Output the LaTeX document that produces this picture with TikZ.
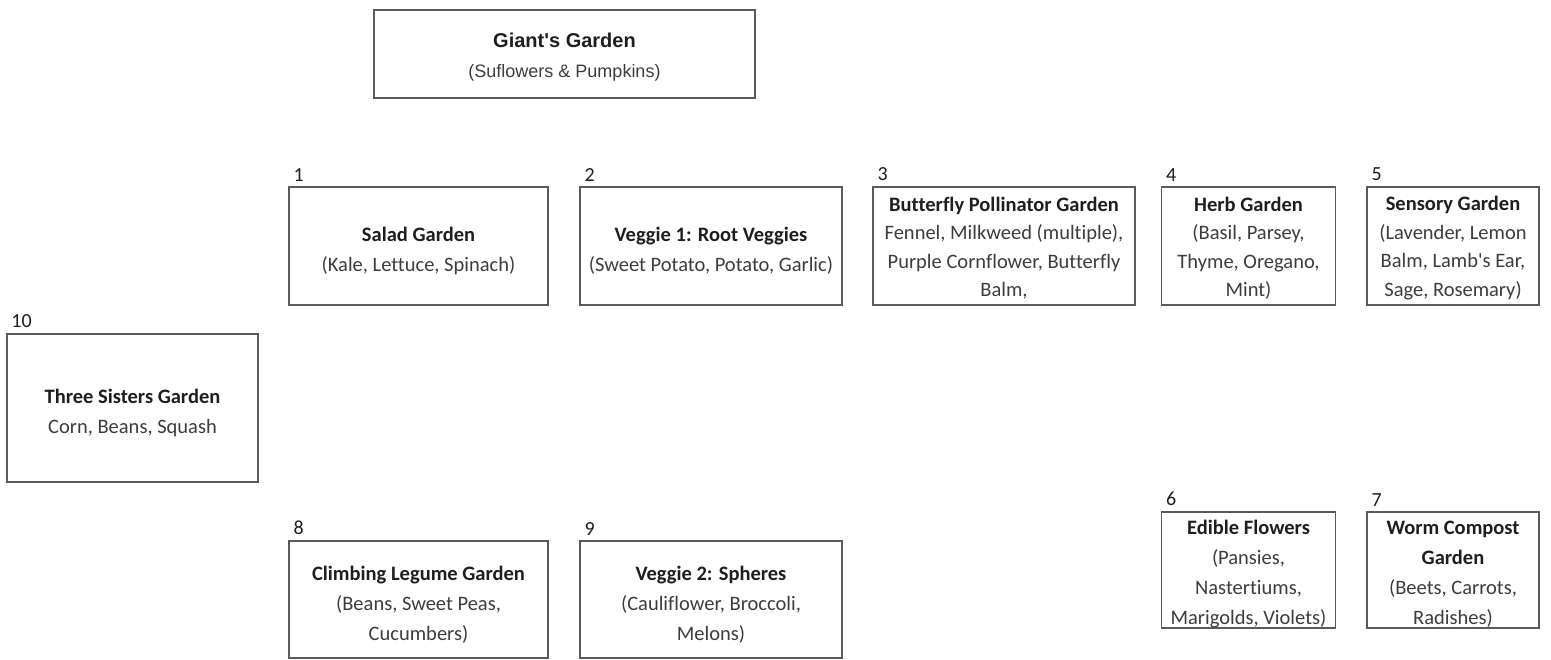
\documentclass[tikz,border=0pt]{standalone}
\usepackage{fontspec}
\setmainfont{Carlito}[Ligatures=NoCommon]
\newfontfamily\arialfont{Liberation Sans}
\usetikzlibrary{positioning}

\definecolor{ink}{HTML}{1E1E1E}
\definecolor{body}{HTML}{3C3C3C}
\definecolor{edge}{HTML}{5A5A5A}

% bold plot title, with a strut to sit the text a little low
\newcommand{\plottitle}[2][24pt]{\rule{0pt}{#1}\textcolor{ink}{\bfseries #2}}

\begin{document}
\begin{tikzpicture}[x=1pt, y=-1pt,
  plot/.style={draw=edge, line width=1.4pt, align=center, inner sep=0pt, text=body,
    font=\fontsize{20.5}{30}\selectfont},
  dense/.style={plot, font=\fontsize{20.5}{28.5}\selectfont},
  num/.style={inner sep=0pt, text=ink, font=\fontsize{20}{22}\selectfont}]
\useasboundingbox (0,0) rectangle (1551,660);

\node[plot, minimum width=381, minimum height=88, font=\arialfont\fontsize{18}{30}\selectfont] (giant) at (564.5,54)
  {\plottitle[20pt]{\fontsize{20}{30}\selectfont Giant\textquotesingle s Garden}\\(Suflowers \& Pumpkins)};

\node[plot, minimum width=259, minimum height=118] (salad) at (418.5,246) {\plottitle{Salad Garden}\\(Kale, Lettuce, Spinach)};
\node[plot, minimum width=262, minimum height=118] (root) at (711,246) {\plottitle{Veggie 1: Root Veggies}\\(Sweet Potato, Potato, Garlic)};
\node[dense, minimum width=262, minimum height=118] (butterfly) at (1004,246) {\plottitle[18.5pt]{Butterfly Pollinator Garden}\\Fennel, Milkweed (multiple),\\Purple Cornflower, Butterfly\\Balm,};
\node[dense, minimum width=174, minimum height=118] (herb) at (1248.5,246) {\plottitle[18.5pt]{Herb Garden}\\(Basil, Parsey,\\Thyme, Oregano,\\Mint)};
\node[dense, minimum width=172, minimum height=118] (sensory) at (1453,246) {\plottitle[18.5pt]{Sensory Garden}\\(Lavender, Lemon\\Balm, Lamb\textquotesingle s Ear,\\Sage, Rosemary)};
\node[plot, minimum width=174, minimum height=116] (edible) at (1248.5,570) {\plottitle[22pt]{Edible Flowers}\\(Pansies,\\Nastertiums,\\Marigolds, Violets)};
\node[plot, minimum width=172, minimum height=116] (worm) at (1453,570) {\plottitle[22pt]{Worm Compost}\\\textcolor{ink}{\bfseries Garden}\\(Beets, Carrots,\\Radishes)};
\node[plot, minimum width=259, minimum height=117] (legume) at (418.5,599.5) {\plottitle{Climbing Legume Garden}\\(Beans, Sweet Peas,\\Cucumbers)};
\node[plot, minimum width=262, minimum height=117] (spheres) at (711,599.5) {\plottitle{Veggie 2: Spheres}\\(Cauliflower, Broccoli,\\Melons)};
\node[plot, minimum width=251, minimum height=148] (sisters) at (132.5,408) {\plottitle{Three Sisters Garden}\\Corn, Beans, Squash};

% plot numbers
\node[num, above right=5pt and 5pt of salad.north west] (n1) {1};
\node[num, above right=5pt and 5pt of root.north west] (n2) {2};
\node[num, above right=5pt and 5pt of butterfly.north west] (n3) {3};
\node[num, above right=5pt and 5pt of herb.north west] (n4) {4};
\node[num, above right=5pt and 5pt of sensory.north west] (n5) {5};
\node[num, above right=5pt and 5pt of edible.north west] (n6) {6};
\node[num, above right=5pt and 5pt of worm.north west] (n7) {7};
\node[num, above right=5pt and 5pt of legume.north west] (n8) {8};
\node[num, above right=5pt and 5pt of spheres.north west] (n9) {9};
\node[num, above right=5pt and 5pt of sisters.north west] (n10) {10};
\end{tikzpicture}
\end{document}
